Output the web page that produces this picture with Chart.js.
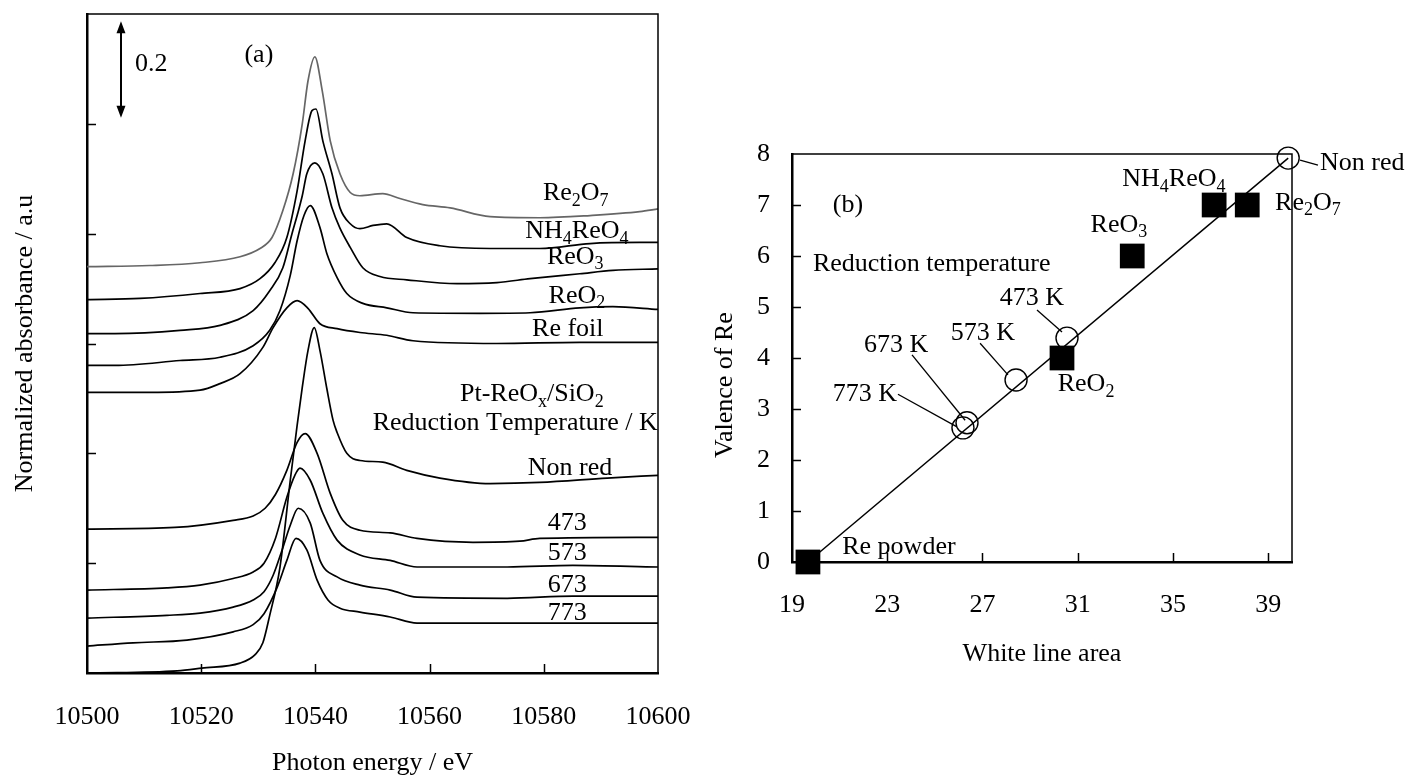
<!DOCTYPE html>
<html>
<head>
<meta charset="utf-8">
<title>Re L3-edge XANES and Re valence</title>
<script src="https://cdn.jsdelivr.net/npm/chart.js@4.4.0/dist/chart.umd.min.js"></script>
<style>
  body { margin: 0; background: #fff; }
  #panelA { position: absolute; left: 0; top: 0; }
  #panelB { position: absolute; left: 700px; top: 0; }
</style>
</head>
<body>
<canvas id="panelA" width="700" height="780"></canvas>
<canvas id="panelB" width="712" height="780"></canvas>
<script>
// ---------- (a) XANES spectra (offset) ----------
const energyTicks = [10500, 10520, 10540, 10560, 10580, 10600];
const absTicks = [0, 0.2, 0.4, 0.6, 0.8, 1.0, 1.2];

const re2o7E = [10500, 10511, 10519.8, 10526.8, 10530.3, 10532.4, 10534.3, 10536.1, 10537.7, 10538.7, 10539.9, 10541.2, 10542.6, 10544.3, 10546.1, 10547.8, 10551.8, 10554.8, 10558.8, 10563.6, 10570.6, 10579.3, 10588.1, 10596.8, 10600];
const re2o7A = [0.740, 0.742, 0.747, 0.758, 0.773, 0.793, 0.842, 0.909, 1.000, 1.078, 1.122, 1.060, 0.969, 0.909, 0.875, 0.869, 0.873, 0.864, 0.853, 0.847, 0.831, 0.829, 0.833, 0.840, 0.845];

const nh4E = [10500, 10509.3, 10519.8, 10526.8, 10530.3, 10532.9, 10535, 10536.8, 10538.2, 10539.4, 10540.1, 10541.3, 10542.9, 10544.3, 10546.1, 10547.8, 10550.1, 10552.5, 10556, 10561.8, 10570.6, 10579.3, 10588.1, 10596.8, 10600];
const nh4A = [0.680, 0.682, 0.691, 0.700, 0.718, 0.747, 0.793, 0.878, 0.969, 1.024, 1.027, 0.969, 0.909, 0.847, 0.818, 0.809, 0.815, 0.818, 0.793, 0.778, 0.773, 0.773, 0.782, 0.784, 0.784];

const reo3E = [10500, 10504.9, 10516.3, 10523.3, 10529.1, 10532, 10534.3, 10535.9, 10536.8, 10537.7, 10538.5, 10539.9, 10541.3, 10542.9, 10544.3, 10546.1, 10548.3, 10551.3, 10556, 10564.8, 10571.8, 10577.6, 10586.3, 10592.1, 10600];
const reo3A = [0.618, 0.618, 0.624, 0.633, 0.660, 0.696, 0.738, 0.800, 0.833, 0.869, 0.909, 0.929, 0.909, 0.847, 0.810, 0.775, 0.738, 0.722, 0.716, 0.709, 0.711, 0.718, 0.727, 0.733, 0.736];

const reo2E = [10500, 10504.9, 10516.3, 10523.3, 10529.1, 10532, 10533.8, 10535.6, 10536.8, 10538, 10539.1, 10540.8, 10542, 10543.8, 10545.5, 10548.3, 10552.5, 10557.1, 10568.8, 10577.6, 10586.3, 10592.1, 10600];
const reo2A = [0.560, 0.560, 0.569, 0.575, 0.596, 0.624, 0.660, 0.724, 0.787, 0.833, 0.851, 0.811, 0.764, 0.720, 0.691, 0.673, 0.665, 0.656, 0.655, 0.656, 0.665, 0.667, 0.662];

const foilE = [10500, 10511, 10519.8, 10523.3, 10526.8, 10530.8, 10532.6, 10535, 10536.8, 10538.7, 10540.8, 10543.8, 10547.8, 10552.5, 10557.1, 10571.8, 10586.3, 10600];
const foilA = [0.511, 0.511, 0.515, 0.527, 0.545, 0.593, 0.629, 0.665, 0.678, 0.664, 0.636, 0.627, 0.620, 0.615, 0.605, 0.600, 0.602, 0.602];

const nonRedE = [10500, 10515.8, 10520.1, 10526.8, 10529.4, 10530.8, 10532, 10533.8, 10535.6, 10536.8, 10537.7, 10538.7, 10539.8, 10540.8, 10542, 10543.1, 10543.8, 10545.5, 10547.8, 10551.8, 10556, 10561.8, 10570.6, 10579.3, 10591.1, 10600];
const nonRedA = [0.000, 0.004, 0.009, 0.018, 0.033, 0.055, 0.105, 0.193, 0.351, 0.451, 0.520, 0.587, 0.629, 0.587, 0.518, 0.460, 0.438, 0.400, 0.387, 0.384, 0.369, 0.355, 0.345, 0.347, 0.355, 0.360];

const red473E = [10500, 10515.4, 10525.6, 10529.1, 10531.2, 10533, 10535, 10536.8, 10538.2, 10540.3, 10542.6, 10544.8, 10547.8, 10553.1, 10557.8, 10567.6, 10575.8, 10579.3, 10600];
const red473A = [0.262, 0.265, 0.278, 0.286, 0.300, 0.325, 0.369, 0.420, 0.436, 0.400, 0.327, 0.278, 0.260, 0.255, 0.245, 0.238, 0.240, 0.245, 0.247];

const red573E = [10500, 10514, 10519.8, 10525.6, 10529.1, 10531, 10533, 10535, 10536.4, 10537.3, 10539.1, 10541.3, 10543.8, 10547.8, 10553.1, 10557.8, 10573.6, 10585.1, 10600];
const red573A = [0.151, 0.155, 0.160, 0.172, 0.184, 0.200, 0.245, 0.320, 0.360, 0.373, 0.351, 0.291, 0.242, 0.215, 0.205, 0.193, 0.193, 0.196, 0.193];

const red673E = [10500, 10514, 10519.8, 10525.6, 10529.1, 10531, 10532.6, 10534.2, 10535.6, 10537, 10539.1, 10540.8, 10543.8, 10547.8, 10553.1, 10557.8, 10573.6, 10585.1, 10600];
const red673A = [0.100, 0.105, 0.109, 0.120, 0.133, 0.148, 0.178, 0.225, 0.269, 0.300, 0.273, 0.205, 0.175, 0.160, 0.151, 0.138, 0.136, 0.140, 0.140];

const red773E = [10500, 10508.1, 10517.5, 10525.6, 10529.1, 10531, 10533.3, 10535, 10536.6, 10538.5, 10540.3, 10542.2, 10544.3, 10547.8, 10553.1, 10557.8, 10573.6, 10600];
const red773A = [0.049, 0.055, 0.060, 0.075, 0.088, 0.108, 0.156, 0.205, 0.245, 0.224, 0.169, 0.133, 0.118, 0.111, 0.102, 0.091, 0.091, 0.091];

// ---------- (b) valence vs white line area ----------
const refNames = ['Re powder', 'ReO2', 'ReO3', 'NH4ReO4', 'Re2O7'];
const refArea = [19.67, 30.34, 33.29, 36.73, 38.12];
const refValence = [0, 4, 6, 7, 7];

const sampleNames = ['Non red', '473 K', '573 K', '673 K', '773 K'];
const sampleArea = [39.84, 30.55, 28.41, 26.35, 26.18];
const sampleValence = [7.92, 4.39, 3.57, 2.73, 2.63];

const fitArea = [19.67, 39.84];
const fitValence = [0, 7.92];

const areaTicks = [19, 23, 27, 31, 35, 39];
const valenceTicks = [0, 1, 2, 3, 4, 5, 6, 7, 8];

const FONT = '"Liberation Serif", "Times New Roman", serif';
const FS = 26;

function pts(xs, ys) {
    return xs.map((v, i) => ({ x: v, y: ys[i] }));
}

// "_" puts the next character in subscript
function drawRich(ctx, str, x, y, align) {
    const parts = [];
    for (let i = 0; i < str.length; i++) {
        if (str[i] === '_') { parts.push([str[i + 1], true]); i++; }
        else parts.push([str[i], false]);
    }
    const big = FS + 'px ' + FONT;
    const small = Math.round(FS * 0.68) + 'px ' + FONT;
    let w = 0;
    parts.forEach(p => { ctx.font = p[1] ? small : big; w += ctx.measureText(p[0]).width; });
    let cx = align === 'center' ? x - w / 2 : (align === 'right' ? x - w : x);
    ctx.textAlign = 'left';
    ctx.textBaseline = 'middle';
    ctx.fillStyle = '#000';
    parts.forEach(p => {
        ctx.font = p[1] ? small : big;
        ctx.fillText(p[0], cx, p[1] ? y + FS * 0.3 : y);
        cx += ctx.measureText(p[0]).width;
    });
}

// frame (top/right) + inward tick marks
const framePlugin = {
    id: 'frame',
    afterDatasetsDraw(chart) {
        const { ctx, chartArea: a, scales: { x, y } } = chart;
        ctx.save();
        ctx.strokeStyle = '#000';
        ctx.lineWidth = 1.5;
        ctx.beginPath();
        ctx.moveTo(a.left, a.top); ctx.lineTo(a.right, a.top); ctx.lineTo(a.right, a.bottom);
        x.ticks.forEach(t => {
            if (t.value <= x.min || t.value >= x.max) return;
            const px = Math.round(x.getPixelForValue(t.value)) + 0.5;
            ctx.moveTo(px, a.bottom); ctx.lineTo(px, a.bottom - 9);
        });
        y.ticks.forEach(t => {
            if (t.value <= y.min || t.value >= y.max) return;
            const py = Math.round(y.getPixelForValue(t.value)) + 0.5;
            ctx.moveTo(a.left, py); ctx.lineTo(a.left + 9, py);
        });
        ctx.stroke();
        ctx.restore();
    }
};

// text labels / leader lines in data coordinates
function notesPlugin(texts, leaders, extra) {
    return {
        id: 'notes',
        afterDraw(chart) {
            const { ctx, scales: { x, y } } = chart;
            ctx.save();
            ctx.strokeStyle = '#000';
            ctx.lineWidth = 1.3;
            leaders.forEach(l => {
                ctx.beginPath();
                ctx.moveTo(x.getPixelForValue(l[0]), y.getPixelForValue(l[1]));
                ctx.lineTo(x.getPixelForValue(l[2]), y.getPixelForValue(l[3]));
                ctx.stroke();
            });
            texts.forEach(t => drawRich(ctx, t[0], x.getPixelForValue(t[1]), y.getPixelForValue(t[2]), t[3]));
            if (extra) extra(chart);
            ctx.restore();
        }
    };
}

const labelsA = [
    ['0.2', 10508.4, 1.108, 'left'],
    ['(a)', 10530.1, 1.125, 'center'],
    ['Re_2O_7', 10585.6, 0.873, 'center'],
    ['NH_4ReO_4', 10585.8, 0.804, 'center'],
    ['ReO_3', 10585.5, 0.758, 'center'],
    ['ReO_2', 10585.8, 0.687, 'center'],
    ['Re foil', 10584.2, 0.627, 'center'],
    ['Pt-ReO_x/SiO_2', 10577.9, 0.507, 'center'],
    ['Reduction Temperature / K', 10575, 0.455, 'center'],
    ['Non red', 10584.6, 0.373, 'center'],
    ['473', 10584.1, 0.273, 'center'],
    ['573', 10584.1, 0.218, 'center'],
    ['673', 10584.1, 0.160, 'center'],
    ['773', 10584.1, 0.109, 'center']
];

function drawScaleArrow(chart) {
    const { ctx, scales: { x, y } } = chart;
    const px = x.getPixelForValue(10505.95);
    const y1 = y.getPixelForValue(1.187);
    const y2 = y.getPixelForValue(1.011);
    ctx.fillStyle = '#000';
    ctx.lineWidth = 2;
    ctx.beginPath();
    ctx.moveTo(px, y1 + 8); ctx.lineTo(px, y2 - 8);
    ctx.stroke();
    ctx.beginPath();
    ctx.moveTo(px, y1); ctx.lineTo(px - 4.5, y1 + 12); ctx.lineTo(px + 4.5, y1 + 12); ctx.closePath();
    ctx.moveTo(px, y2); ctx.lineTo(px - 4.5, y2 - 12); ctx.lineTo(px + 4.5, y2 - 12); ctx.closePath();
    ctx.fill();
}

function spectrum(xs, ys, color) {
    return {
        data: pts(xs, ys),
        showLine: true,
        borderColor: color || '#000',
        borderWidth: 1.7,
        pointRadius: 0,
        cubicInterpolationMode: 'monotone',
        fill: false
    };
}

const tickFont = { family: FONT, size: FS };

// tick marks are drawn by framePlugin; tickLength only reserves the gap under the axis
new Chart(document.getElementById('panelA'), {
    type: 'scatter',
    data: {
        datasets: [
            spectrum(re2o7E, re2o7A, '#666'),
            spectrum(nh4E, nh4A),
            spectrum(reo3E, reo3A),
            spectrum(reo2E, reo2A),
            spectrum(foilE, foilA),
            spectrum(nonRedE, nonRedA),
            spectrum(red473E, red473A),
            spectrum(red573E, red573A),
            spectrum(red673E, red673A),
            spectrum(red773E, red773A)
        ]
    },
    options: {
        responsive: false,
        devicePixelRatio: 1,
        animation: false,
        layout: { padding: { left: 0, top: 14, right: 42, bottom: 0 } },
        plugins: { legend: { display: false }, tooltip: { enabled: false } },
        scales: {
            x: {
                type: 'linear', min: 10500, max: 10600,
                afterBuildTicks: s => { s.ticks = energyTicks.map(v => ({ value: v })); },
                afterFit: s => { s.height = 107; },
                ticks: { font: tickFont, color: '#000', padding: 0, maxRotation: 0, callback: v => String(v) },
                grid: { display: false, drawTicks: true, tickLength: 29 },
                border: { display: true, width: 2.5, color: '#000' },
                title: { display: true, text: 'Photon energy / eV', font: tickFont, color: '#000', padding: { top: 0, bottom: 1 } }
            },
            y: {
                type: 'linear', min: 0, max: 1.2,
                afterBuildTicks: s => { s.ticks = absTicks.map(v => ({ value: v })); },
                afterFit: s => { s.width = 87; },
                ticks: { display: false },
                grid: { display: false, drawTicks: false },
                border: { display: true, width: 2.5, color: '#000' },
                title: { display: true, text: 'Normalized absorbance / a.u', font: tickFont, color: '#000', padding: { top: 10, bottom: 0 } }
            }
        }
    },
    plugins: [framePlugin, notesPlugin(labelsA, [], drawScaleArrow)]
});

// ---------- (b) ----------
const labelsB = [
    ['(b)', 21.35, 7.0, 'center'],
    ['Reduction temperature', 19.88, 5.84, 'left'],
    ['NH_4ReO_4', 35.04, 7.51, 'center'],
    ['Re_2O_7', 39.29, 7.04, 'left'],
    ['ReO_3', 32.73, 6.61, 'center'],
    ['ReO_2', 31.35, 3.49, 'center'],
    ['Re powder', 23.49, 0.29, 'center'],
    ['Non red', 41.18, 7.82, 'left'],
    ['473 K', 29.08, 5.17, 'center'],
    ['573 K', 27.02, 4.48, 'center'],
    ['673 K', 23.37, 4.25, 'center'],
    ['773 K', 23.41, 3.29, 'right']
];
const leadersB = [
    [23.45, 3.29, 25.93, 2.65],
    [24.04, 4.06, 26.27, 2.78],
    [26.90, 4.29, 28.07, 3.67],
    [29.29, 4.94, 30.34, 4.51],
    [40.34, 7.88, 41.09, 7.78]
];

function drawValenceTitle(chart) {
    const { ctx } = chart;
    ctx.save();
    ctx.translate(25, 385);
    ctx.rotate(-Math.PI / 2);
    ctx.font = FS + 'px ' + FONT;
    ctx.fillStyle = '#000';
    ctx.textAlign = 'center';
    ctx.textBaseline = 'middle';
    ctx.fillText('Valence of Re', 0, 0);
    ctx.restore();
}

new Chart(document.getElementById('panelB'), {
    type: 'scatter',
    data: {
        datasets: [
            {
                label: 'Pt-ReOx/SiO2',
                data: pts(sampleArea, sampleValence),
                pointStyle: 'circle',
                pointRadius: 11,
                pointBorderWidth: 1.4,
                borderColor: '#000',
                backgroundColor: 'rgba(0,0,0,0)',
                clip: false
            },
            {
                label: 'references',
                data: pts(refArea, refValence),
                pointStyle: 'rect',
                pointRadius: 17.5,
                pointBorderWidth: 0,
                borderColor: '#000',
                backgroundColor: '#000',
                clip: false
            },
            {
                label: 'fit',
                data: pts(fitArea, fitValence),
                showLine: true,
                pointRadius: 0,
                borderColor: '#000',
                borderWidth: 1.5,
                clip: false
            }
        ]
    },
    options: {
        responsive: false,
        devicePixelRatio: 1,
        animation: false,
        layout: { padding: { left: 0, top: 154, right: 120, bottom: 0 } },
        plugins: { legend: { display: false }, tooltip: { enabled: false } },
        scales: {
            x: {
                type: 'linear', min: 19, max: 40,
                afterBuildTicks: s => { s.ticks = areaTicks.map(v => ({ value: v })); },
                afterFit: s => { s.height = 218; },
                ticks: { font: tickFont, color: '#000', padding: 0, maxRotation: 0, callback: v => String(v) },
                grid: { display: false, drawTicks: true, tickLength: 28 },
                border: { display: true, width: 2.5, color: '#000' },
                title: { display: true, text: 'White line area', font: tickFont, color: '#000', padding: { top: 0, bottom: 110 } }
            },
            y: {
                type: 'linear', min: 0, max: 8,
                afterBuildTicks: s => { s.ticks = valenceTicks.map(v => ({ value: v })); },
                afterFit: s => { s.width = 92; },
                ticks: { font: tickFont, color: '#000', padding: 0, callback: v => String(v) },
                grid: { display: false, drawTicks: true, tickLength: 22 },
                border: { display: true, width: 2.5, color: '#000' }
            }
        }
    },
    plugins: [framePlugin, notesPlugin(labelsB, leadersB, drawValenceTitle)]
});
</script>
</body>
</html>
